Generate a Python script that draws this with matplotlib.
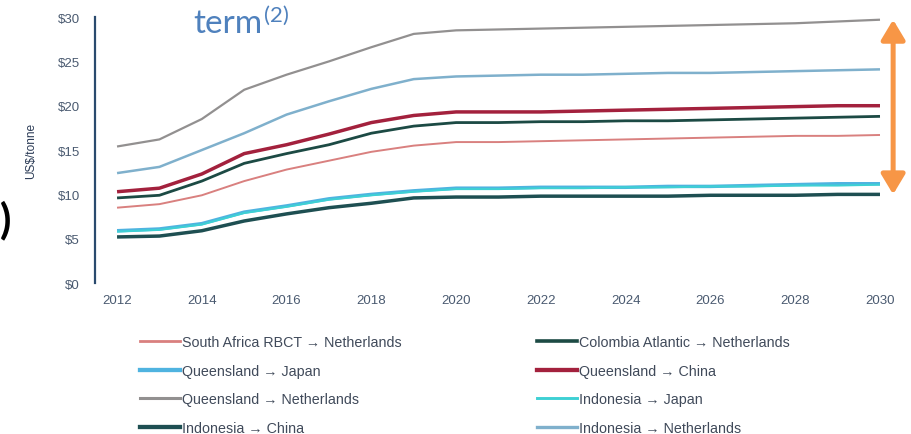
import matplotlib
matplotlib.use('Agg')
import matplotlib.pyplot as plt
from matplotlib.lines import Line2D

years = list(range(2012, 2031))

# freight cost per route, US$/tonne
sa_rbct_neth = [8.5, 8.9, 9.9, 11.5, 12.8, 13.8, 14.8, 15.5, 15.9, 15.9, 16.0, 16.1, 16.2, 16.3, 16.4, 16.5, 16.6, 16.6, 16.7]
colombia_neth = [9.6, 9.9, 11.5, 13.5, 14.6, 15.6, 16.9, 17.7, 18.1, 18.1, 18.2, 18.2, 18.3, 18.3, 18.4, 18.5, 18.6, 18.7, 18.8]
qld_japan = [5.9, 6.1, 6.7, 8.0, 8.7, 9.5, 10.0, 10.4, 10.7, 10.7, 10.8, 10.8, 10.8, 10.9, 10.9, 11.0, 11.1, 11.2, 11.2]
qld_china = [10.3, 10.7, 12.3, 14.6, 15.6, 16.8, 18.1, 18.9, 19.3, 19.3, 19.3, 19.4, 19.5, 19.6, 19.7, 19.8, 19.9, 20.0, 20.0]
qld_neth = [15.4, 16.2, 18.5, 21.8, 23.5, 25.0, 26.6, 28.1, 28.5, 28.6, 28.7, 28.8, 28.9, 29.0, 29.1, 29.2, 29.3, 29.5, 29.7]
indo_japan = [5.8, 6.0, 6.6, 7.9, 8.6, 9.4, 9.9, 10.3, 10.6, 10.6, 10.7, 10.7, 10.8, 10.8, 10.9, 10.9, 11.0, 11.0, 11.1]
indo_china = [5.2, 5.3, 5.9, 7.0, 7.8, 8.5, 9.0, 9.6, 9.7, 9.7, 9.8, 9.8, 9.8, 9.8, 9.9, 9.9, 9.9, 10.0, 10.0]
indo_neth = [12.4, 13.1, 15.0, 16.9, 19.0, 20.5, 21.9, 23.0, 23.3, 23.4, 23.5, 23.5, 23.6, 23.7, 23.7, 23.8, 23.9, 24.0, 24.1]

routes = [
    ('South Africa RBCT \u2192 Netherlands', sa_rbct_neth, '#d9807f', 1.4),
    ('Colombia Atlantic \u2192 Netherlands', colombia_neth, '#1c4a44', 2.0),
    ('Queensland \u2192 Japan', qld_japan, '#4fb3e0', 2.5),
    ('Queensland \u2192 China', qld_china, '#a3213d', 2.5),
    ('Queensland \u2192 Netherlands', qld_neth, '#929090', 1.6),
    ('Indonesia \u2192 Japan', indo_japan, '#3ed0d4', 1.5),
    ('Indonesia \u2192 China', indo_china, '#1e4f52', 2.5),
    ('Indonesia \u2192 Netherlands', indo_neth, '#7fb0cc', 1.8),
]

yticks = [0, 5, 10, 15, 20, 25, 30]
ytick_labels = ['$0', '$5', '$10', '$15', '$20', '$25', '$30']
xticks = list(range(2012, 2031, 2))

plt.rcParams['font.family'] = ['Liberation Sans', 'DejaVu Sans']

fig = plt.figure(figsize=(9.12, 4.35), dpi=100)
ax = fig.add_axes([95 / 912, 0.347, 810 / 912, 0.6115])

for name, vals, col, lw in routes:
    ax.plot(years, vals, color=col, lw=lw, solid_capstyle='butt')

ax.set_xlim(2011.48, 2030.59)
ax.set_ylim(0, 30)
ax.set_yticks(yticks)
ax.set_yticklabels(ytick_labels)
ax.set_xticks(xticks)
for s in ['top', 'right', 'bottom']:
    ax.spines[s].set_visible(False)
ax.spines['left'].set_color('#2a4a6e')
ax.spines['left'].set_linewidth(1.6)
ax.tick_params(axis='both', length=0, labelsize=9.5, colors='#4a5a70')
ax.tick_params(axis='y', pad=11)
ax.tick_params(axis='x', pad=8)
ax.set_ylabel('US$/tonne', fontsize=8.6, color='#2a3a55', labelpad=15)

# spread between the dearest and cheapest route in the final year
top = max(r[1][-1] for r in routes)
bottom = min(r[1][-1] for r in routes)
ax.annotate('', xy=(2030.31, top), xytext=(2030.31, bottom),
            arrowprops=dict(arrowstyle='<|-|>,head_length=0.6,head_width=0.36',
                            color='#f79646', lw=3.6, mutation_scale=20,
                            shrinkA=0, shrinkB=0),
            annotation_clip=False)

# legend in two columns under the chart
left_col = [routes[i] for i in (0, 2, 4, 6)]
right_col = [routes[i] for i in (1, 3, 5, 7)]
for col_routes, x0 in ((left_col, 140), (right_col, 537)):
    handles = [Line2D([], [], color=c, lw=lw + 0.6) for _, _, c, lw in col_routes]
    labels = [n for n, _, _, _ in col_routes]
    fig.legend(handles, labels, loc='upper left',
               bbox_to_anchor=(x0 / 912, (435 - 336) / 435),
               frameon=False, fontsize=10.3, handlelength=2.8,
               handletextpad=0.15, labelspacing=1.03, borderpad=0,
               borderaxespad=0, labelcolor='#404a5a')

fig.text(193 / 912, 1 - 33 / 435, 'term', fontsize=24, color='#4f81bd',
         family='Lato', ha='left', va='baseline')
fig.text(264 / 912, 1 - 22 / 435, '(2)', fontsize=16, color='#4f81bd',
         family='Lato', ha='left', va='baseline')
fig.text(0, 1 - 220 / 435, ')', fontsize=30, color='black',
         family='Lato', fontweight='bold', ha='left', va='center')

fig.savefig('out.png', dpi=100)
